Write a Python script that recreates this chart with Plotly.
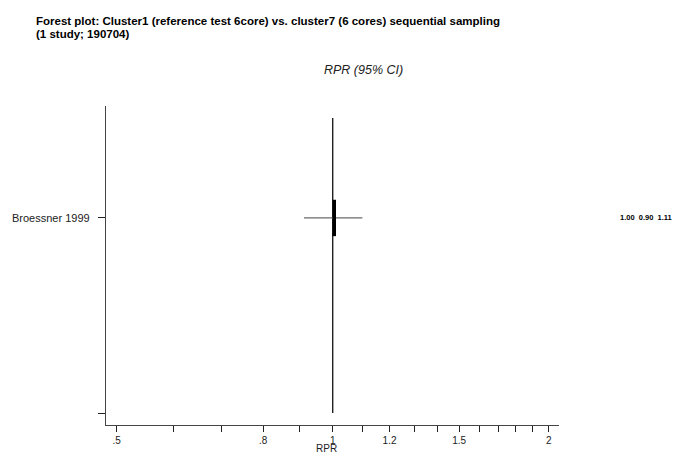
import plotly.graph_objects as go

# ---- data ----
studies = ["Broessner 1999"]
estimate = [1.005]
ci_low = [0.912]
ci_high = [1.10]
label_est = ["1.00"]
label_low = ["0.90"]
label_high = ["1.11"]
study_rows = [1.0]
empty_row = [0.0]

xtick_vals = [0.5, 0.6, 0.7, 0.8, 0.9, 1.0, 1.1, 1.2, 1.3, 1.4, 1.5, 1.6, 1.7, 1.8, 1.9, 2.0]
xtick_text = [".5", "", "", ".8", "", "1", "", "1.2", "", "", "1.5", "", "", "", "", "2"]
ref_value = 1.0
ref_span = [0.0, 1.513]
x_title = "RPR"

title_lines = ["Forest plot: Cluster1 (reference test 6core) vs. cluster7 (6 cores) sequential sampling",
               "(1 study; 190704)"]

FONT = "Liberation Sans, Arial, sans-serif"
L, R, T, B = 106, 137, 106, 28
W, H = 696, 453
PW, PH = W - L - R, H - T - B


def px(xp):
    return (xp - L) / PW


def py(yp):
    return 1 - (yp - T) / PH


fig = go.Figure()

# reference line
fig.add_trace(go.Scatter(x=[ref_value, ref_value], y=ref_span, mode="lines",
                         line=dict(color="#111111", width=1.3), hoverinfo="skip", showlegend=False))

# confidence intervals
for s, y, lo, hi in zip(studies, study_rows, ci_low, ci_high):
    fig.add_trace(go.Scatter(x=[lo, hi], y=[y, y], mode="lines",
                             line=dict(color="#6a6a6a", width=1.3), showlegend=False, name=s))

# point estimates (thick vertical bar)
fig.add_trace(go.Scatter(x=estimate, y=study_rows, mode="markers",
                         marker=dict(symbol="line-ns-open", size=26, color="black",
                                     line=dict(color="black", width=3.5)),
                         showlegend=False))

fig.update_layout(
    width=W, height=H,
    margin=dict(l=L, r=R, t=T, b=B, autoexpand=False),
    paper_bgcolor="white", plot_bgcolor="white",
    font=dict(family=FONT, size=11, color="#222222"),
    xaxis=dict(type="log", range=[-0.3159, 0.3153], automargin=False,
               tickvals=xtick_vals, ticktext=xtick_text,
               ticks="outside", ticklen=6, tickwidth=1.2, tickcolor="#222222",
               showline=True, linecolor="#444444", linewidth=1.3,
               showgrid=False, zeroline=False,
               tickfont=dict(size=10, family=FONT, color="#222222")),
    yaxis=dict(range=[-0.0615, 1.574], automargin=False,
               tickvals=study_rows + empty_row, ticktext=studies + [""],
               ticks="outside", ticklen=7, tickwidth=1, tickcolor="#222222",
               ticklabelstandoff=6,
               showline=True, linecolor="#444444", linewidth=1.3,
               showgrid=False, zeroline=False,
               tickfont=dict(size=11, family=FONT, color="#222222")),
)

# x axis title
fig.add_annotation(xref="paper", yref="paper", x=px(326.5), y=py(448.5),
                   xanchor="center", yanchor="middle", showarrow=False, borderpad=0,
                   text=x_title, font=dict(size=10, family=FONT, color="#222222"))

# title (two lines)
for line, yc in zip(title_lines, [21, 34]):
    fig.add_annotation(xref="paper", yref="paper", x=px(34), y=py(yc),
                       xanchor="left", yanchor="middle", showarrow=False,
                       text="<b>" + line + "</b>",
                       font=dict(size=11.5, family=FONT, color="black"))

# column header
fig.add_annotation(xref="paper", yref="paper", x=px(363), y=py(70),
                   xanchor="center", yanchor="middle", showarrow=False,
                   text="<i>RPR (95% CI)</i>", font=dict(size=12.5, family=FONT, color="#222222"))

# text column with values
for y, e, lo, hi in zip(study_rows, label_est, label_low, label_high):
    fig.add_annotation(xref="paper", yref="y", x=px(618), y=y,
                       xanchor="left", yanchor="middle", showarrow=False,
                       text="<b>%s&nbsp;&nbsp;%s&nbsp;&nbsp;%s</b>" % (e, lo, hi),
                       font=dict(size=7.5, family=FONT, color="black"))

fig.write_html("out.html")
